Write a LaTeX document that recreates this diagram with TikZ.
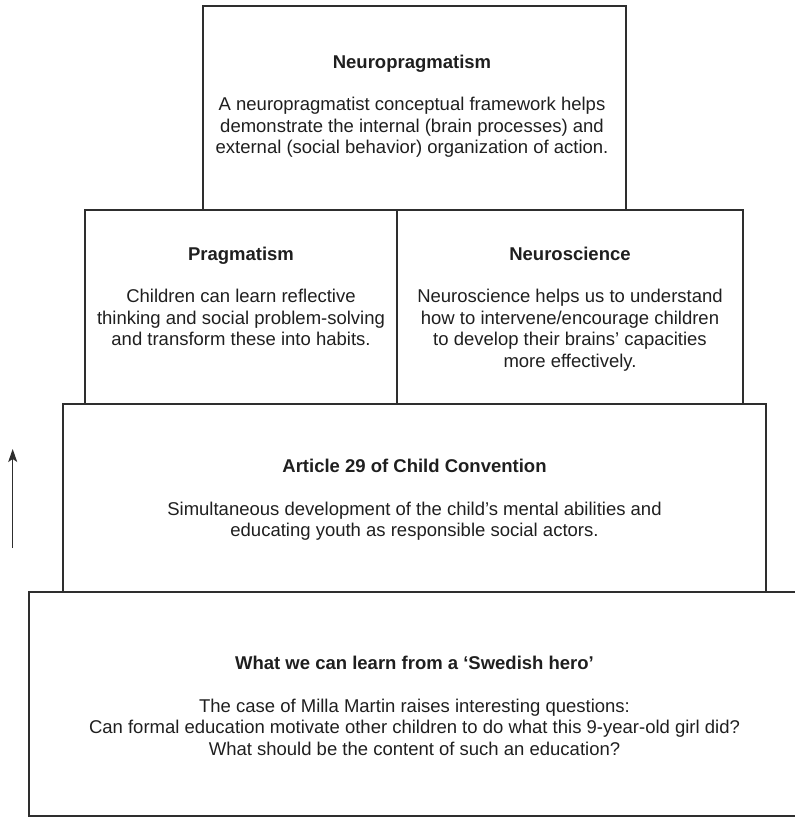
\documentclass[tikz,border=0pt]{standalone}
\usepackage{fontspec}
\setmainfont{Liberation Sans}
\usetikzlibrary{arrows.meta}
\begin{document}
\begin{tikzpicture}[x=1pt,y=-1pt,
  box/.style={draw=black!82,line width=1.1pt,rectangle,inner sep=0pt,fill=none},
  txt/.style={align=center,inner sep=0pt,text=black!88,
    font=\fontsize{18.5}{21.5}\selectfont}]
\useasboundingbox (0,0) rectangle (795,817);
% boxes
\node[box,minimum width=423pt,minimum height=204pt] (top) at (414.5,108) {};
\node[box,minimum width=312pt,minimum height=194pt] (prag) at (241,307) {};
\node[box,minimum width=346pt,minimum height=194pt] (neuro) at (570,307) {};
\node[box,minimum width=703pt,minimum height=188pt] (art) at (414.5,498) {};
\node[box,minimum width=790pt,minimum height=224pt] (swe) at (424,704) {};
% texts
\node[txt] (toptxt) at (412,106) {\textbf{Neuropragmatism}\\[21pt]
A neuropragmatist conceptual framework helps\\
demonstrate the internal (brain processes) and\\
external (social behavior) organization of action.};
\node[txt] (neurotxt) at (570,309) {\textbf{Neuroscience}\\[21pt]
Neuroscience helps us to understand\\
how to intervene/encourage children\\
to develop their brains’ capacities\\
more effectively.};
\node[txt,anchor=north] (pragtxt) at (prag.center |- neurotxt.north) {\textbf{Pragmatism}\\[21pt]
Children can learn reflective\\
thinking and social problem-solving\\
and transform these into habits.};
\node[txt] (arttxt) at (414.5,500) {\textbf{Article 29 of Child Convention}\\[21pt]
Simultaneous development of the child’s mental abilities and\\
educating youth as responsible social actors.};
\node[txt] (swetxt) at (414.5,706) {\textbf{What we can learn from a ‘Swedish hero’}\\[21pt]
The case of Milla Martin raises interesting questions:\\
Can formal education motivate other children to do what this 9-year-old girl did?\\
What should be the content of such an education?};
% arrow
\coordinate (a0) at (12.7,548);
\coordinate (a1) at (12.7,449);
\draw[black!82,line width=1.1pt,-{Stealth[length=13pt,width=9pt,inset=3pt]}] (a0) -- (a1);
\end{tikzpicture}
\end{document}
